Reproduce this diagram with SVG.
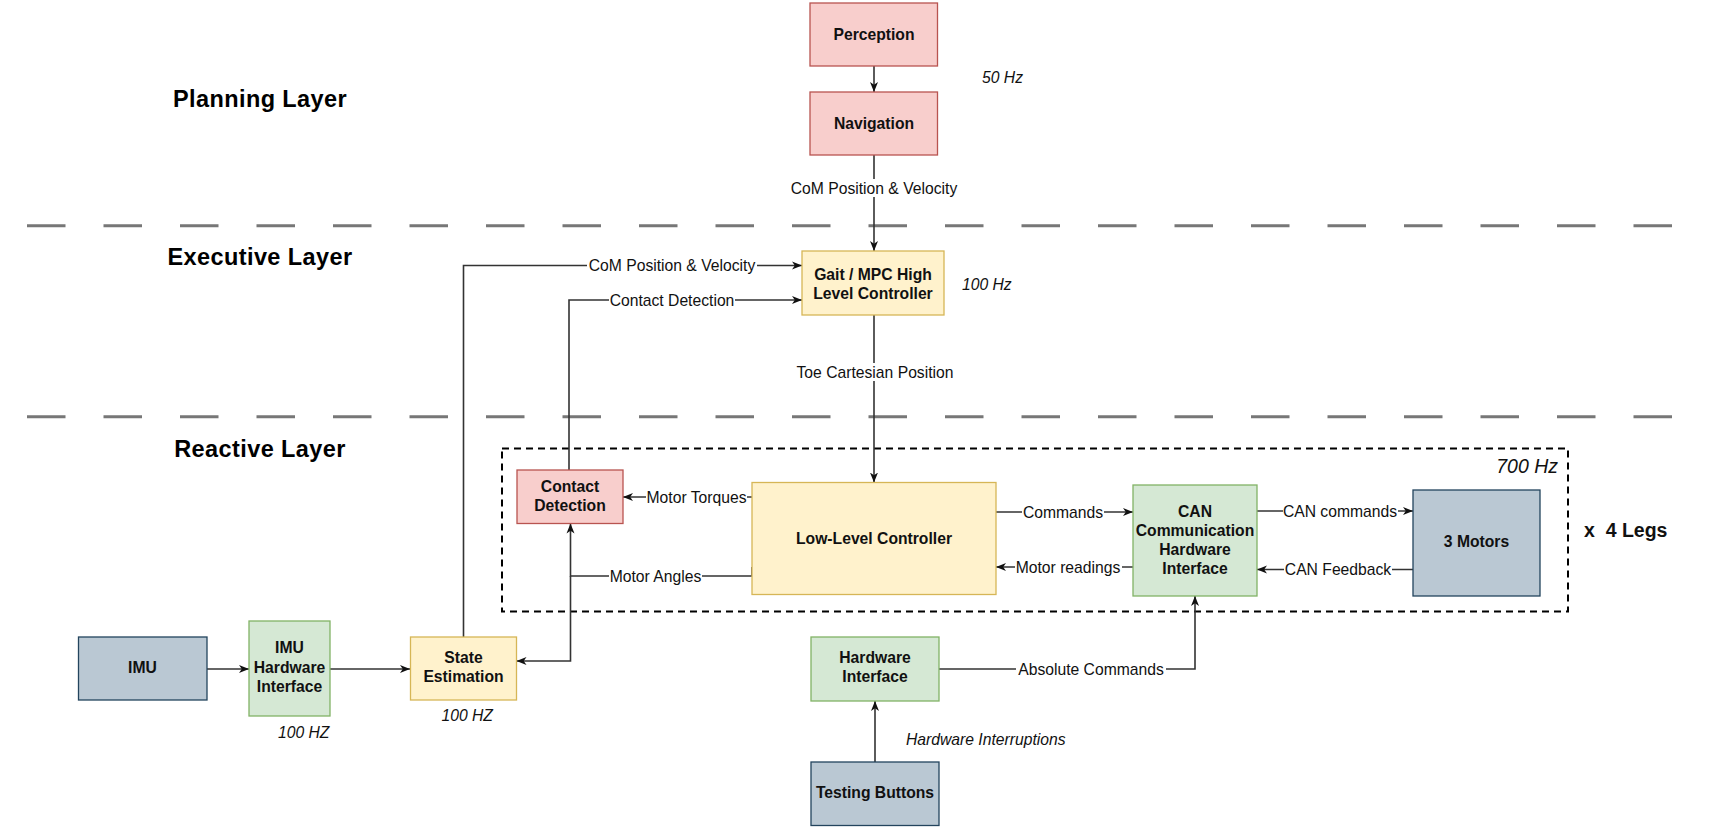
<svg xmlns="http://www.w3.org/2000/svg" width="1712" height="831" viewBox="0 0 1712 831">
<defs>
<style>
.t{font-family:"Liberation Sans",Arial,sans-serif;font-size:15.7px;fill:#111;}
.b{font-weight:bold;text-anchor:middle;}
.m{text-anchor:middle;}
.i{font-style:italic;}
.h{font-family:"Liberation Sans",Arial,sans-serif;font-size:23.5px;font-weight:bold;fill:#000;text-anchor:middle;letter-spacing:0.4px;}
.red{fill:#f8cecc;stroke:#b85450;stroke-width:1.3;}
.yel{fill:#fff2cc;stroke:#d6b656;stroke-width:1.3;}
.grn{fill:#d5e8d4;stroke:#82b366;stroke-width:1.3;}
.blu{fill:#bac8d3;stroke:#23445d;stroke-width:1.3;}
.e{fill:none;stroke:#333;stroke-width:1.6;}
.lbg{fill:#fff;}
.layer{stroke:#777;stroke-width:3;stroke-dasharray:38.5 38;}
</style>
<marker id="arr" markerWidth="11" markerHeight="9" refX="10" refY="4.5" orient="auto" markerUnits="userSpaceOnUse">
<path d="M0,0.5 L10,4.5 L0,8.5 L2.8,4.5 Z" fill="#111"/>
</marker>
</defs>
<rect width="1712" height="831" fill="#fff"/>

<g id="layers">
<line class="layer" x1="27" y1="225.7" x2="1672" y2="225.7"/>
<line class="layer" x1="27" y1="416.7" x2="1672" y2="416.7"/>
<text class="h" x="260" y="107">Planning Layer</text>
<text class="h" x="260" y="265">Executive Layer</text>
<text class="h" x="260" y="457">Reactive Layer</text>
</g>

<g id="leg-group">
<rect x="502" y="448.5" width="1066" height="163" fill="none" stroke="#000" stroke-width="2" stroke-dasharray="7 5"/>
<text class="t i" x="1558" y="472.5" text-anchor="end" style="font-size:19.5px">700 Hz</text>
<text class="t" x="1584" y="537" style="font-size:19.5px;font-weight:bold;white-space:pre">x  4 Legs</text>
</g>

<g id="connectors">
<path class="e" d="M874,66 L874,92" marker-end="url(#arr)"/>
<path class="e" d="M874,155 L874,251" marker-end="url(#arr)"/>
<path class="e" d="M463.5,637 L463.5,265.5 L802,265.5" marker-end="url(#arr)"/>
<path class="e" d="M569,470 L569,300 L802,300" marker-end="url(#arr)"/>
<path class="e" d="M874,315 L874,482.5" marker-end="url(#arr)"/>
<path class="e" d="M752,497 L623,497" marker-end="url(#arr)"/>
<path class="e" d="M752,567 L752,576 L570.5,576 L570.5,523.5" marker-end="url(#arr)"/>
<path class="e" d="M570.5,576 L570.5,661 L516.5,661" marker-end="url(#arr)"/>
<path class="e" d="M996,512 L1133,512" marker-end="url(#arr)"/>
<path class="e" d="M1133,567 L996,567" marker-end="url(#arr)"/>
<path class="e" d="M1257,511 L1413,511" marker-end="url(#arr)"/>
<path class="e" d="M1413,569.5 L1257,569.5" marker-end="url(#arr)"/>
<path class="e" d="M207,669 L249,669" marker-end="url(#arr)"/>
<path class="e" d="M330,669 L410,669" marker-end="url(#arr)"/>
<path class="e" d="M875,762 L875,701" marker-end="url(#arr)"/>
<path class="e" d="M939,669 L1195,669 L1195,596" marker-end="url(#arr)"/>

<rect class="lbg" x="789" y="179" width="170" height="18"/>
<text class="t m" x="874" y="193.5">CoM Position &amp; Velocity</text>
<rect class="lbg" x="587" y="256.5" width="170" height="18"/>
<text class="t m" x="672" y="271">CoM Position &amp; Velocity</text>
<rect class="lbg" x="609" y="291" width="126" height="18"/>
<text class="t m" x="672" y="305.5">Contact Detection</text>
<rect class="lbg" x="795" y="363" width="160" height="18"/>
<text class="t m" x="875" y="377.5">Toe Cartesian Position</text>
<rect class="lbg" x="646" y="488" width="101" height="18"/>
<text class="t m" x="696.5" y="502.5">Motor Torques</text>
<rect class="lbg" x="609" y="567" width="93" height="18"/>
<text class="t m" x="655.5" y="581.5">Motor Angles</text>
<rect class="lbg" x="1022" y="503" width="82" height="18"/>
<text class="t m" x="1063" y="517.5">Commands</text>
<rect class="lbg" x="1015" y="558" width="107" height="18"/>
<text class="t m" x="1068" y="572.5">Motor readings</text>
<rect class="lbg" x="1283" y="502" width="115" height="18"/>
<text class="t m" x="1340" y="516.5">CAN commands</text>
<rect class="lbg" x="1284" y="560.5" width="108" height="18"/>
<text class="t m" x="1338" y="575">CAN Feedback</text>
<rect class="lbg" x="1016" y="660" width="150" height="18"/>
<text class="t m" x="1091" y="674.5">Absolute Commands</text>
</g>

<g id="perception"><rect class="red" x="810" y="3" width="127.5" height="63"/><text class="t b" x="874" y="39.5">Perception</text></g>
<text class="t i" x="982" y="83">50 Hz</text>
<g id="navigation"><rect class="red" x="810" y="92" width="127.5" height="63"/><text class="t b" x="874" y="128.5">Navigation</text></g>
<g id="gait"><rect class="yel" x="802" y="251" width="142" height="64"/><text class="t b" x="873" y="280">Gait / MPC High</text><text class="t b" x="873" y="299">Level Controller</text></g>
<text class="t i" x="962" y="290">100 Hz</text>
<g id="contact-detection"><rect class="red" x="517" y="470" width="106" height="53.5"/><text class="t b" x="570" y="492">Contact</text><text class="t b" x="570" y="511">Detection</text></g>
<g id="low-level-controller"><rect class="yel" x="752" y="482.5" width="244" height="112"/><text class="t b" x="874" y="543.5">Low-Level Controller</text></g>
<g id="can-interface"><rect class="grn" x="1133" y="485" width="124" height="111"/><text class="t b" x="1195" y="516.5">CAN</text><text class="t b" x="1195" y="535.5">Communication</text><text class="t b" x="1195" y="554.5">Hardware</text><text class="t b" x="1195" y="573.5">Interface</text></g>
<g id="motors"><rect class="blu" x="1413" y="490" width="127" height="106"/><text class="t b" x="1476.5" y="547">3 Motors</text></g>
<g id="imu"><rect class="blu" x="78.5" y="637" width="128.5" height="63"/><text class="t b" x="142.5" y="673">IMU</text></g>
<g id="imu-hw"><rect class="grn" x="249" y="621" width="81" height="95"/><text class="t b" x="289.5" y="653">IMU</text><text class="t b" x="289.5" y="672.5">Hardware</text><text class="t b" x="289.5" y="692">Interface</text></g>
<text class="t i" x="278" y="737.5">100 HZ</text>
<g id="state-estimation"><rect class="yel" x="410.5" y="637" width="106" height="63"/><text class="t b" x="463.5" y="663">State</text><text class="t b" x="463.5" y="682">Estimation</text></g>
<text class="t i" x="441.5" y="721">100 HZ</text>
<g id="hardware-interface"><rect class="grn" x="811" y="637" width="128" height="64"/><text class="t b" x="875" y="663">Hardware</text><text class="t b" x="875" y="682">Interface</text></g>
<text class="t i" x="906" y="745">Hardware Interruptions</text>
<g id="testing-buttons"><rect class="blu" x="811" y="762" width="128" height="63.5"/><text class="t b" x="875" y="797.5">Testing Buttons</text></g>
</svg>
